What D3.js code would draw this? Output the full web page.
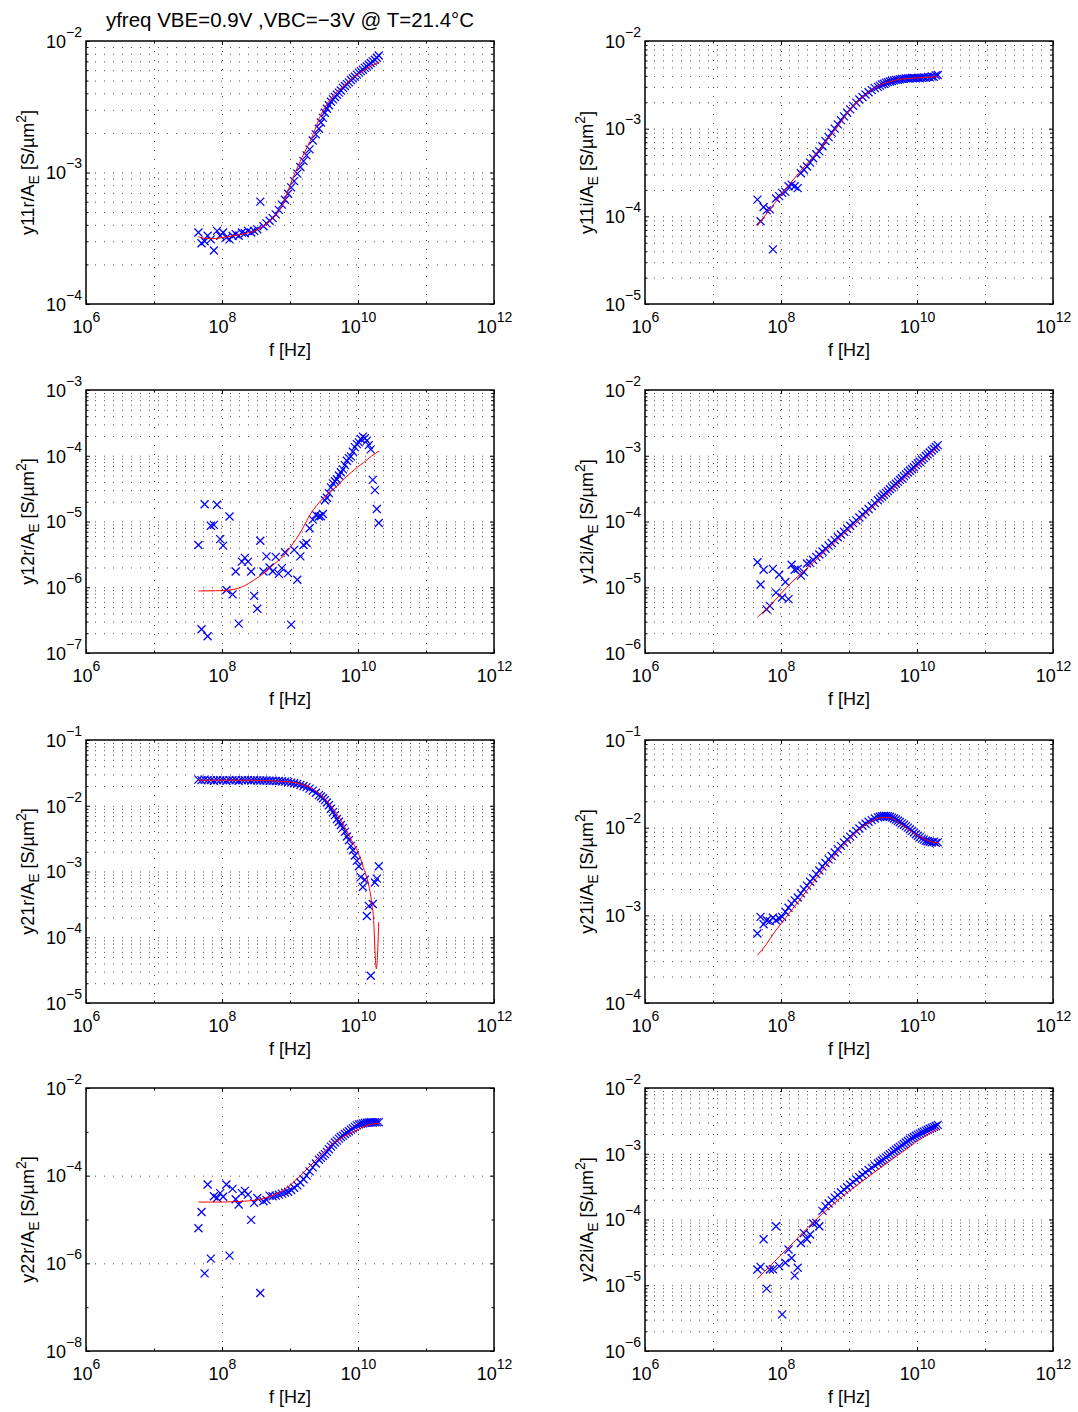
<!DOCTYPE html>
<html lang="en">
<head>
<meta charset="UTF-8">
<title>yfreq VBE=0.9V, VBC=-3V</title>
<script src="https://d3js.org/d3.v7.min.js"></script>
<style>
  body { margin: 0; background: #fff; }
  svg { display: block; }
  text { font-family: "Liberation Sans", Arial, Helvetica, sans-serif; fill: #000; }
  .tick text { font-size: 18px; }
  .sup, .sub { font-size: 14px; }
  .ylab, .xlab { font-size: 18px; }
  .title { font-size: 20.5px; }
  .grid line { stroke: #000; stroke-opacity: 0.7; stroke-dasharray: 1, 8; }
  .marks path { fill: none; stroke: #0000ff; stroke-width: 1.25; }
  .model { fill: none; stroke: #ff0000; stroke-width: 1; }
</style>
</head>
<body>
<svg width="1078" height="1412"></svg>
<script>
// measured frequency points [Hz]
const freq = [
  4.5e7, 5.0e7, 5.55e7, 6.15e7, 6.85e7, 7.6e7, 8.45e7, 9.4e7, 1.04e8, 1.16e8,
  1.29e8, 1.43e8, 1.59e8, 1.76e8, 1.96e8, 2.17e8, 2.41e8, 2.68e8, 2.97e8, 3.3e8,
  3.66e8, 4.07e8, 4.51e8, 5.01e8, 5.56e8, 6.17e8, 6.85e8, 7.6e8, 8.44e8, 9.37e8,
  1.04e9, 1.15e9, 1.28e9, 1.42e9, 1.58e9, 1.75e9, 1.94e9, 2.16e9, 2.4e9, 2.66e9,
  2.85e9, 3.05e9, 3.26e9, 3.49e9, 3.73e9, 4.0e9, 4.28e9, 4.58e9, 4.9e9, 5.24e9,
  5.6e9, 6.0e9, 6.42e9, 6.87e9, 7.35e9, 7.86e9, 8.41e9, 9.0e9, 9.63e9, 1.03e10,
  1.1e10, 1.18e10, 1.26e10, 1.35e10, 1.44e10, 1.54e10, 1.65e10, 1.77e10, 1.89e10, 2.02e10
];

// model frequency points [Hz]
const modelFreq = [4.5e7, 6e7, 8e7, 1e8, 1.5e8, 2e8, 3e8, 4e8, 6e8, 8e8, 1e9, 1.5e9,
  2e9, 3e9, 4e9, 5e9, 6e9, 8e9, 1e10, 1.2e10, 1.4e10, 1.6e10, 1.8e10, 2.05e10];
const y21rModelFreq = [4.5e7, 6e7, 8e7, 1e8, 1.5e8, 2e8, 3e8, 4e8, 6e8, 8e8, 1e9, 1.5e9,
  2e9, 3e9, 4e9, 5e9, 6e9, 8e9, 1e10, 1.2e10, 1.4e10, 1.6e10, 1.7e10, 1.78e10, 1.86e10, 2.02e10];

// measured Y-parameters per emitter area [S/um^2]
const y11r = [
  3.5e-4, 2.9e-4, 3.0e-4, 3.3e-4, 3.1e-4, 2.55e-4, 3.6e-4, 3.3e-4, 3.5e-4, 3.2e-4,
  3.1e-4, 3.3e-4, 3.4e-4, 3.3e-4, 3.5e-4, 3.45e-4, 3.6e-4, 3.5e-4, 3.6e-4, 3.7e-4,
  6.0e-4, 3.9e-4, 4.1e-4, 4.3e-4, 4.5e-4, 4.8e-4, 5.2e-4, 5.7e-4, 6.2e-4, 6.9e-4,
  7.7e-4, 8.6e-4, 9.8e-4, 1.1e-3, 1.22e-3, 1.35e-3, 1.5e-3, 1.75e-3, 1.95e-3, 2.15e-3,
  2.4e-3, 2.6e-3, 2.85e-3, 3.05e-3, 3.25e-3, 3.45e-3, 3.6e-3, 3.75e-3, 3.9e-3, 4.05e-3,
  4.2e-3, 4.4e-3, 4.55e-3, 4.7e-3, 4.85e-3, 5.05e-3, 5.2e-3, 5.35e-3, 5.55e-3, 5.75e-3,
  5.9e-3, 6.05e-3, 6.25e-3, 6.4e-3, 6.6e-3, 6.8e-3, 7.0e-3, 7.2e-3, 7.45e-3, 7.75e-3
];
const y11i = [
  1.55e-4, 8.8e-5, 1.28e-4, 1.17e-4, 1.2e-4, 4.2e-5, 1.6e-4, 1.7e-4, 1.85e-4, 1.9e-4,
  2.2e-4, 2.3e-4, 2.2e-4, 2.1e-4, 3.1e-4, 3.4e-4, 3.7e-4, 4.1e-4, 4.6e-4, 5.1e-4,
  5.5e-4, 6.3e-4, 7.2e-4, 8.0e-4, 9.0e-4, 1.0e-3, 1.12e-3, 1.25e-3, 1.38e-3, 1.52e-3,
  1.66e-3, 1.82e-3, 1.98e-3, 2.15e-3, 2.3e-3, 2.45e-3, 2.6e-3, 2.75e-3, 2.9e-3, 3.0e-3,
  3.1e-3, 3.2e-3, 3.25e-3, 3.35e-3, 3.4e-3, 3.45e-3, 3.5e-3, 3.55e-3, 3.6e-3, 3.6e-3,
  3.65e-3, 3.7e-3, 3.7e-3, 3.75e-3, 3.75e-3, 3.75e-3, 3.8e-3, 3.8e-3, 3.75e-3, 3.8e-3,
  3.75e-3, 3.8e-3, 3.85e-3, 3.8e-3, 3.9e-3, 3.85e-3, 3.95e-3, 3.9e-3, 4.05e-3, 4.1e-3
];
const y12r = [
  4.4e-6, 2.3e-7, 1.83e-5, 1.8e-7, 8.6e-6, 8.9e-6, 1.8e-5, 5.4e-6, 4.3e-6, 9.1e-7,
  1.19e-5, 7.8e-7, 1.74e-6, 2.8e-7, 2.45e-6, 2.8e-6, 2.45e-6, 1.74e-6, 7.4e-7, 4.7e-7,
  5.1e-6, 1.74e-6, 2.95e-6, 2.0e-6, 1.75e-6, 2.9e-6, 1.6e-6, 1.95e-6, 3.4e-6, 1.64e-6,
  2.7e-7, 3.7e-6, 1.3e-6, 2.95e-6, 4.4e-6, 4.7e-6, 7.9e-6, 1.07e-5, 1.26e-5, 1.19e-5,
  1.2e-5, 1.3e-5, 2.1e-5, 2.3e-5, 2.7e-5, 3.3e-5, 3.8e-5, 4.1e-5, 4.4e-5, 5.0e-5,
  5.6e-5, 6.2e-5, 7.2e-5, 8.4e-5, 9.2e-5, 9.8e-5, 1.15e-4, 1.35e-4, 1.5e-4, 1.6e-4,
  1.8e-4, 1.95e-4, 1.85e-4, 1.7e-4, 1.45e-4, 1.25e-4, 4.3e-5, 3.0e-5, 1.55e-5, 9.5e-6
];
const y12i = [
  2.4e-5, 1.1e-5, 1.85e-5, 4.6e-6, 5.2e-6, 1.9e-5, 8.3e-6, 1.55e-5, 7.0e-6, 1.2e-5,
  6.6e-6, 2.2e-5, 1.85e-5, 1.9e-5, 1.5e-5, 1.7e-5, 2.3e-5, 2.35e-5, 2.6e-5, 2.9e-5,
  3.15e-5, 3.5e-5, 3.85e-5, 4.3e-5, 4.7e-5, 5.2e-5, 5.75e-5, 6.35e-5, 7.0e-5, 7.75e-5,
  8.6e-5, 9.45e-5, 1.04e-4, 1.15e-4, 1.28e-4, 1.41e-4, 1.55e-4, 1.72e-4, 1.9e-4, 2.1e-4,
  2.25e-4, 2.4e-4, 2.55e-4, 2.72e-4, 2.9e-4, 3.1e-4, 3.3e-4, 3.55e-4, 3.75e-4, 4.0e-4,
  4.3e-4, 4.55e-4, 4.9e-4, 5.2e-4, 5.55e-4, 5.9e-4, 6.3e-4, 6.7e-4, 7.2e-4, 7.65e-4,
  8.1e-4, 8.7e-4, 9.2e-4, 9.9e-4, 1.05e-3, 1.12e-3, 1.2e-3, 1.28e-3, 1.36e-3, 1.45e-3
];
const y21r = [
  2.5e-2, 2.45e-2, 2.5e-2, 2.45e-2, 2.45e-2, 2.4e-2, 2.45e-2, 2.45e-2, 2.45e-2, 2.4e-2,
  2.45e-2, 2.45e-2, 2.45e-2, 2.4e-2, 2.45e-2, 2.45e-2, 2.45e-2, 2.42e-2, 2.45e-2, 2.43e-2,
  2.42e-2, 2.42e-2, 2.42e-2, 2.4e-2, 2.4e-2, 2.38e-2, 2.38e-2, 2.36e-2, 2.33e-2, 2.3e-2,
  2.25e-2, 2.2e-2, 2.15e-2, 2.08e-2, 2.0e-2, 1.92e-2, 1.82e-2, 1.7e-2, 1.58e-2, 1.45e-2,
  1.38e-2, 1.3e-2, 1.22e-2, 1.12e-2, 1.02e-2, 9.0e-3, 8.0e-3, 7.2e-3, 6.3e-3, 5.7e-3,
  5.1e-3, 4.6e-3, 4.0e-3, 3.4e-3, 3.0e-3, 2.45e-3, 2.1e-3, 1.75e-3, 1.45e-3, 1.2e-3,
  8.2e-4, 5.8e-4, 7.5e-4, 2.1e-4, 3.0e-4, 2.6e-5, 3.2e-4, 6.8e-4, 7.8e-4, 1.2e-3
];
const y21i = [
  6.2e-4, 9.6e-4, 7.9e-4, 8.8e-4, 8.6e-4, 9.4e-4, 8.8e-4, 9.2e-4, 9.6e-4, 1.1e-3,
  1.22e-3, 1.36e-3, 1.48e-3, 1.6e-3, 1.78e-3, 1.98e-3, 2.18e-3, 2.42e-3, 2.65e-3, 2.95e-3,
  3.25e-3, 3.6e-3, 3.95e-3, 4.35e-3, 4.75e-3, 5.2e-3, 5.7e-3, 6.2e-3, 6.75e-3, 7.3e-3,
  7.9e-3, 8.5e-3, 9.2e-3, 9.8e-3, 1.05e-2, 1.11e-2, 1.17e-2, 1.22e-2, 1.27e-2, 1.31e-2,
  1.33e-2, 1.35e-2, 1.36e-2, 1.36e-2, 1.35e-2, 1.33e-2, 1.3e-2, 1.27e-2, 1.24e-2, 1.2e-2,
  1.16e-2, 1.12e-2, 1.08e-2, 1.04e-2, 1.0e-2, 9.6e-3, 9.2e-3, 8.8e-3, 8.4e-3, 8.1e-3,
  7.8e-3, 7.5e-3, 7.3e-3, 7.1e-3, 7.0e-3, 6.9e-3, 6.8e-3, 6.9e-3, 6.7e-3, 6.8e-3
];
const y22r = [
  6.3e-6, 1.48e-5, 5.9e-7, 6.3e-5, 1.28e-6, 3.4e-5, 3.1e-5, 4.0e-5, 3.3e-5, 6.3e-5,
  1.5e-6, 5.0e-5, 2.9e-5, 2.2e-5, 4.0e-5, 4.5e-5, 3.7e-5, 9.8e-6, 2.4e-5, 3.1e-5,
  2.1e-7, 2.6e-5, 2.8e-5, 3.5e-5, 3.4e-5, 3.5e-5, 3.7e-5, 3.9e-5, 4.1e-5, 4.3e-5,
  4.7e-5, 5.3e-5, 6.0e-5, 7.0e-5, 8.3e-5, 1.0e-4, 1.25e-4, 1.55e-4, 1.9e-4, 2.3e-4,
  2.55e-4, 2.8e-4, 3.1e-4, 3.5e-4, 4.0e-4, 4.6e-4, 5.1e-4, 5.7e-4, 6.3e-4, 7.0e-4,
  7.6e-4, 8.2e-4, 8.9e-4, 9.6e-4, 1.03e-3, 1.12e-3, 1.2e-3, 1.3e-3, 1.4e-3, 1.48e-3,
  1.52e-3, 1.56e-3, 1.6e-3, 1.62e-3, 1.63e-3, 1.65e-3, 1.63e-3, 1.66e-3, 1.64e-3, 1.67e-3
];
const y22i = [
  1.74e-5, 1.9e-5, 5.0e-5, 8.9e-6, 1.74e-5, 1.75e-5, 7.9e-5, 1.95e-5, 3.6e-6, 2.2e-5,
  3.5e-5, 2.6e-5, 1.4e-5, 1.85e-5, 4.4e-5, 6.2e-5, 5.0e-5, 5.9e-5, 8.7e-5, 8.9e-5,
  7.9e-5, 1.35e-4, 1.6e-4, 1.75e-4, 1.95e-4, 2.15e-4, 2.35e-4, 2.6e-4, 2.85e-4, 3.1e-4,
  3.4e-4, 3.7e-4, 4.05e-4, 4.4e-4, 4.8e-4, 5.2e-4, 5.65e-4, 6.1e-4, 6.6e-4, 7.1e-4,
  7.5e-4, 7.9e-4, 8.3e-4, 8.8e-4, 9.3e-4, 9.8e-4, 1.03e-3, 1.09e-3, 1.15e-3, 1.21e-3,
  1.27e-3, 1.34e-3, 1.41e-3, 1.48e-3, 1.56e-3, 1.64e-3, 1.72e-3, 1.8e-3, 1.88e-3, 1.95e-3,
  2.02e-3, 2.1e-3, 2.17e-3, 2.25e-3, 2.32e-3, 2.4e-3, 2.48e-3, 2.56e-3, 2.64e-3, 2.75e-3
];

// model curves
const y11rModel = [3.25e-4, 3.15e-4, 3.15e-4, 3.2e-4, 3.3e-4, 3.4e-4, 3.6e-4, 3.9e-4, 4.7e-4, 5.8e-4, 8.0e-4, 1.3e-3,
  1.75e-3, 2.9e-3, 3.65e-3, 4.15e-3, 4.5e-3, 5.1e-3, 5.6e-3, 5.95e-3, 6.25e-3, 6.5e-3, 6.7e-3, 6.9e-3];
const y11iModel = [7.8e-5, 1.05e-4, 1.4e-4, 1.75e-4, 2.6e-4, 3.4e-4, 4.8e-4, 6.3e-4, 9.3e-4, 1.25e-3, 1.6e-3, 2.2e-3,
  2.65e-3, 3.2e-3, 3.45e-3, 3.6e-3, 3.68e-3, 3.75e-3, 3.8e-3, 3.82e-3, 3.85e-3, 3.87e-3, 3.9e-3, 3.9e-3];
const y12rModel = [8.8e-7, 8.8e-7, 8.85e-7, 8.9e-7, 9.3e-7, 1.02e-6, 1.3e-6, 1.6e-6, 2.3e-6, 3.0e-6, 4.0e-6, 7.5e-6,
  1.3e-5, 2.2e-5, 2.9e-5, 3.5e-5, 4.3e-5, 5.6e-5, 6.8e-5, 7.8e-5, 8.9e-5, 1.0e-4, 1.08e-4, 1.18e-4];
const y12iModel = [3.5e-6, 4.6e-6, 6.2e-6, 8.0e-6, 1.25e-5, 1.64e-5, 2.4e-5, 3.2e-5, 4.65e-5, 6.2e-5, 7.6e-5, 1.12e-4,
  1.48e-4, 2.19e-4, 2.87e-4, 3.55e-4, 4.23e-4, 5.55e-4, 6.9e-4, 8.2e-4, 9.5e-4, 1.08e-3, 1.2e-3, 1.36e-3];
const y21rModel = [2.45e-2, 2.45e-2, 2.45e-2, 2.45e-2, 2.45e-2, 2.44e-2, 2.43e-2, 2.42e-2, 2.38e-2, 2.34e-2, 2.3e-2, 2.12e-2,
  1.9e-2, 1.4e-2, 1.0e-2, 7.2e-3, 5.4e-3, 3.0e-3, 1.95e-3, 1.15e-3, 7.0e-4, 3.2e-4, 1.8e-4, 6.0e-5, 3.3e-5, 1.7e-4];
const y21iModel = [3.5e-4, 4.6e-4, 6.4e-4, 8.0e-4, 1.2e-3, 1.6e-3, 2.4e-3, 3.2e-3, 4.7e-3, 6.1e-3, 7.3e-3, 9.9e-3,
  1.15e-2, 1.3e-2, 1.3e-2, 1.2e-2, 1.07e-2, 9.2e-3, 8.2e-3, 7.6e-3, 7.2e-3, 6.95e-3, 6.8e-3, 6.7e-3];
const y22rModel = [2.5e-5, 2.5e-5, 2.5e-5, 2.5e-5, 2.55e-5, 2.6e-5, 2.75e-5, 3.0e-5, 3.7e-5, 4.7e-5, 6.0e-5, 1.1e-4,
  1.7e-4, 3.2e-4, 5.0e-4, 6.4e-4, 7.6e-4, 9.6e-4, 1.12e-3, 1.3e-3, 1.42e-3, 1.5e-3, 1.54e-3, 1.56e-3];
const y22iModel = [1.25e-5, 1.7e-5, 2.3e-5, 2.9e-5, 4.4e-5, 6.0e-5, 9.2e-5, 1.2e-4, 1.75e-4, 2.25e-4, 2.7e-4, 3.7e-4,
  4.6e-4, 6.3e-4, 7.8e-4, 9.2e-4, 1.05e-3, 1.3e-3, 1.55e-3, 1.75e-3, 1.95e-3, 2.1e-3, 2.25e-3, 2.4e-3];

const xDomain = [1e6, 1e12];
const xMajor = [1e6, 1e8, 1e10, 1e12];
const xMinor = [1e7, 1e9, 1e11];

const panels = [
  { label: "y11r", data: y11r, mf: modelFreq, model: y11rModel, dom: [1e-4, 1e-2], col: 0, row: 0 },
  { label: "y11i", data: y11i, mf: modelFreq, model: y11iModel, dom: [1e-5, 1e-2], col: 1, row: 0 },
  { label: "y12r", data: y12r, mf: modelFreq, model: y12rModel, dom: [1e-7, 1e-3], col: 0, row: 1 },
  { label: "y12i", data: y12i, mf: modelFreq, model: y12iModel, dom: [1e-6, 1e-2], col: 1, row: 1 },
  { label: "y21r", data: y21r, mf: y21rModelFreq, model: y21rModel, dom: [1e-5, 1e-1], col: 0, row: 2 },
  { label: "y21i", data: y21i, mf: modelFreq, model: y21iModel, dom: [1e-4, 1e-1], col: 1, row: 2 },
  { label: "y22r", data: y22r, mf: modelFreq, model: y22rModel, dom: [1e-8, 1e-2], col: 0, row: 3, step: 2 },
  { label: "y22i", data: y22i, mf: modelFreq, model: y22iModel, dom: [1e-6, 1e-2], col: 1, row: 3 }
];

// layout
const W = 408, H = 263;
const colX = [86, 645];
const rowY = [41, 390, 740, 1088];

const svg = d3.select("svg");
const x = d3.scaleLog().domain(xDomain).range([0, W]);

// "10^n" labels with a real superscript
function powLabel(text) {
  text.each(function(d) {
    const e = Math.round(Math.log10(d));
    const t = d3.select(this).text(null);
    t.append("tspan").text("10");
    t.append("tspan").attr("class", "sup").attr("dy", -11)
      .text(e < 0 ? "\u2212" + (-e) : String(e));
  });
}

function noDomain(g) { g.select(".domain").remove(); }

panels.forEach(p => {
  const g = svg.append("g")
    .attr("transform", `translate(${colX[p.col]},${rowY[p.row]})`);
  const y = d3.scaleLog().domain(p.dom).range([H, 0]);

  const lo = Math.round(Math.log10(p.dom[0])), hi = Math.round(Math.log10(p.dom[1]));
  const step = p.step || 1;
  const yMajor = d3.range(lo, hi + 1, step).map(e => Math.pow(10, e));
  const isMajor = v => yMajor.some(m => Math.abs(v / m - 1) < 1e-6);
  const yMinor = step === 1
    ? y.ticks().filter(v => !isMajor(v))
    : d3.range(lo + 1, hi, step).map(e => Math.pow(10, e));
  const inY = v => v > p.dom[0] * 1.0001 && v < p.dom[1] * 0.9999;
  const inX = v => v > xDomain[0] * 1.0001 && v < xDomain[1] * 0.9999;

  const yGrid = (step === 1 ? y.ticks() : yMajor).filter(inY);
  const xGrid = (step === 1 ? xMajor.concat(xMinor) : xMajor).filter(inX);

  // dotted grid
  g.append("g").attr("class", "grid")
    .call(d3.axisLeft(y).tickValues(yGrid).tickSize(-W).tickFormat(""))
    .call(noDomain);
  g.append("g").attr("class", "grid")
    .attr("transform", `translate(0,${H})`)
    .call(d3.axisBottom(x).tickValues(xGrid).tickSize(-H).tickFormat(""))
    .call(noDomain);

  // ticks (inside) and labels
  g.append("g")
    .call(d3.axisLeft(y).tickValues(yMajor).tickSizeInner(-4).tickSizeOuter(0).tickPadding(4))
    .call(noDomain)
    .call(a => a.selectAll(".tick text").attr("dy", "0.35em").call(powLabel));
  g.append("g")
    .call(d3.axisLeft(y).tickValues(yMinor).tickSizeInner(-2.5).tickSizeOuter(0).tickFormat(""))
    .call(noDomain);
  g.append("g").attr("transform", `translate(${W},0)`)
    .call(d3.axisRight(y).tickValues(yMajor).tickSizeInner(-4).tickSizeOuter(0).tickFormat(""))
    .call(noDomain);
  g.append("g").attr("transform", `translate(${W},0)`)
    .call(d3.axisRight(y).tickValues(yMinor).tickSizeInner(-2.5).tickSizeOuter(0).tickFormat(""))
    .call(noDomain);

  g.append("g").attr("transform", `translate(0,${H})`)
    .call(d3.axisBottom(x).tickValues(xMajor).tickSizeInner(-4).tickSizeOuter(0))
    .call(noDomain)
    .call(a => a.selectAll(".tick text").attr("y", 29).attr("dy", null).call(powLabel));
  g.append("g").attr("transform", `translate(0,${H})`)
    .call(d3.axisBottom(x).tickValues(xMinor).tickSizeInner(-2.5).tickSizeOuter(0).tickFormat(""))
    .call(noDomain);
  g.append("g")
    .call(d3.axisTop(x).tickValues(xMajor).tickSizeInner(-4).tickSizeOuter(0).tickFormat(""))
    .call(noDomain);
  g.append("g")
    .call(d3.axisTop(x).tickValues(xMinor).tickSizeInner(-2.5).tickSizeOuter(0).tickFormat(""))
    .call(noDomain);

  // measured data, "x" markers
  const pts = freq.map((f, i) => [f, p.data[i]]);
  g.append("g").attr("class", "marks")
    .selectAll("path")
    .data(pts)
    .join("path")
    .attr("transform", d => `translate(${x(d[0])},${y(d[1])})`)
    .attr("d", "M-4,-4L4,4M-4,4L4,-4");

  // model curve
  const line = d3.line()
    .x(d => x(d[0]))
    .y(d => y(d[1]))
    .curve(d3.curveMonotoneX);
  g.append("path").attr("class", "model")
    .attr("d", line(p.mf.map((f, i) => [f, p.model[i]])));

  // axes box
  g.append("rect")
    .attr("width", W).attr("height", H)
    .attr("fill", "none").attr("stroke", "#000").attr("stroke-width", 1.5);

  // axis labels
  svg.append("text").attr("class", "xlab")
    .attr("x", colX[p.col] + W / 2).attr("y", rowY[p.row] + H + 52)
    .attr("text-anchor", "middle")
    .text("f [Hz]");

  const yl = svg.append("text").attr("class", "ylab")
    .attr("transform", `translate(${colX[p.col] - 58},${rowY[p.row] + H / 2}) rotate(-90)`)
    .attr("text-anchor", "middle")
    .attr("dy", "0.35em");
  yl.append("tspan").text(p.label + "/A");
  yl.append("tspan").attr("class", "sub").attr("dy", 5).text("E");
  yl.append("tspan").attr("dy", -5).text(" [S/\u00B5m");
  yl.append("tspan").attr("class", "sup").attr("dy", -8).text("2");
  yl.append("tspan").attr("dy", 8).text("]");
});

svg.append("text").attr("class", "title")
  .attr("x", colX[0] + W / 2).attr("y", 27)
  .attr("text-anchor", "middle")
  .text("yfreq VBE=0.9V ,VBC=\u22123V @ T=21.4\u00B0C");
</script>
</body>
</html>
